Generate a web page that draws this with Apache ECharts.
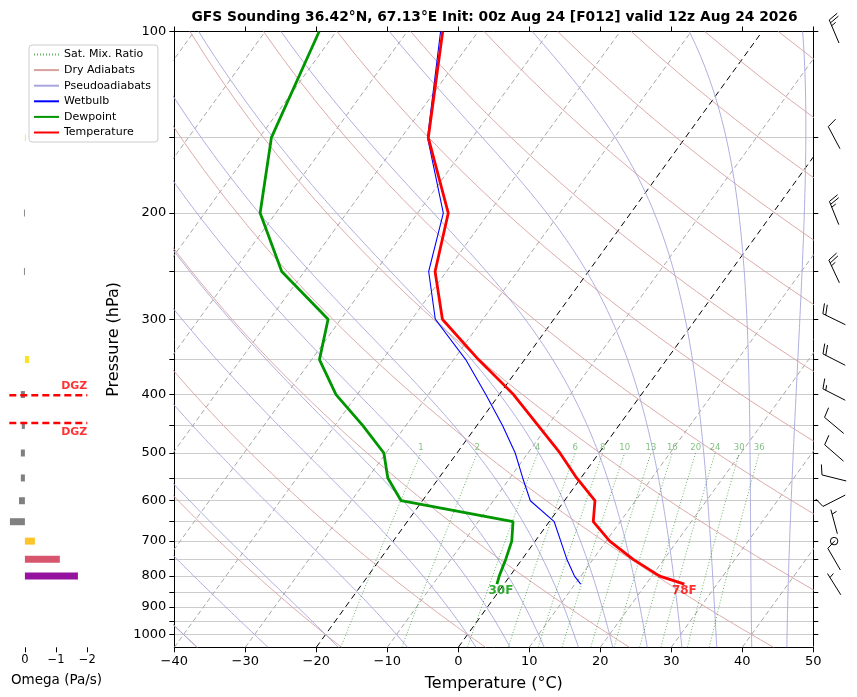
<!DOCTYPE html>
<html><head><meta charset="utf-8">
<script src="https://cdn.jsdelivr.net/npm/echarts@6/dist/echarts.min.js"></script>
<style>html,body{margin:0;padding:0;background:#fff}#c{width:857px;height:697px}</style>
</head><body><div id="c"></div>
<script>
// ---------------- data ----------------
const titleText = 'GFS Sounding 36.42°N, 67.13°E Init: 00z Aug 24 [F012] valid 12z Aug 24 2026';
const levels      = [825, 800, 750, 700, 650, 600, 550, 500, 450, 400, 350, 300, 250, 200, 150, 100];
const temperature = [25.4, 21.1, 15.6, 10.5, 6.2, 4.3, -0.6, -5.5, -11.4, -18.0, -26.5, -35.7, -41.6, -45.7, -56.2, -65.0];
const dewpoint    = [-1.0, -1.5, -2.3, -3.3, -5.1, -23.0, -27.2, -30.3, -36.1, -43.0, -48.9, -51.8, -63.2, -72.2, -78.3, -82.4];
const wetbulb     = [10.8, 9.1, 6.3, 3.6, 0.7, -4.8, -8.2, -11.8, -16.4, -21.9, -28.3, -36.7, -42.5, -46.4, -56.3, -65.3];

const omegaLevels = [150, 200, 250, 350, 400, 450, 500, 550, 600, 650, 700, 750, 800];
const omega       = [-0.03, 0.03, 0.03, -0.13, 0.13, 0.10, 0.13, 0.13, 0.19, 0.48, -0.32, -1.12, -1.70];

const barbLevels = [100, 150, 200, 250, 300, 350, 400, 450, 500, 550, 600, 650, 700, 750, 825];
const windDir    = [337, 332, 338, 335, 296, 297, 297, 310, 311, 284, 243, 345, 0, 330, 328];
const windSpeed  = [25, 10, 25, 25, 20, 20, 15, 10, 10, 10, 10, 5, 0, 10, 5];

const dgzPressures = [401, 446];
const mixingRatios = [1, 2, 4, 6, 8, 10, 13, 16, 20, 24, 30, 36];
const dryAdiabatT0 = [-40, -20, 0, 20, 40, 60, 80, 100, 120, 140, 160, 180, 200, 220];
const moistAdiabatT0 = [-40, -30, -20, -10, 0, 5, 10, 15, 20, 25, 30, 35, 40, 45, 50];
const isotherms = [-100, -90, -80, -70, -60, -50, -40, -30, -20, -10, 0, 10, 20, 30, 40, 50];
const tempTicks = [-40, -30, -20, -10, 0, 10, 20, 30, 40, 50];
const pressureLabels = [100, 200, 300, 400, 500, 600, 700, 800, 900, 1000];
const pressureTicks = [100, 150, 200, 250, 300, 350, 400, 450, 500, 550, 600, 650, 700, 750, 800, 850, 900, 950, 1000];
const omegaTicks = [-2, -1, 0];

// ---------------- helpers ----------------
const FONT = 'DejaVu Sans';
const P_BOT = 1050, P_TOP = 100, SKEW = 61.5;
const highlightIsotherms = [0, -20];
const skewX = (T, p) => T + SKEW * Math.log10(P_BOT / p);
const minus = v => (v < 0 ? '\u2212' + Math.abs(v) : '' + v);

const Rd = 287.04749, Cpd = 1004.6662, Lv = 2.50084e6, EPS = 0.62196;
const esat = Tc => 6.112 * Math.exp(17.67 * Tc / (Tc + 243.5));
const rsat = (Tc, p) => { const e = esat(Tc); return EPS * e / (p - e); };
function dTdp(p, Tk) {
  const rs = rsat(Tk - 273.15, p);
  return (Rd * Tk + Lv * rs) / (Cpd + Lv * Lv * rs * EPS / (Rd * Tk * Tk)) / p;
}
function integrate(T0, p0, p1, h) {
  const out = [[p0, T0]];
  let p = p0, T = T0;
  const n = Math.round((p1 - p0) / h);
  for (let i = 0; i < n; i++) {
    const k1 = dTdp(p, T), k2 = dTdp(p + h / 2, T + h / 2 * k1),
          k3 = dTdp(p + h / 2, T + h / 2 * k2), k4 = dTdp(p + h, T + h * k3);
    T += h / 6 * (k1 + 2 * k2 + 2 * k3 + k4); p += h;
    out.push([p, T]);
  }
  return out;
}
function moistLine(t0) {
  const up = integrate(t0 + 273.15, 1000, P_TOP, -5);
  const down = integrate(t0 + 273.15, 1000, P_BOT, 5).reverse();
  return down.concat(up.slice(1)).map(([p, Tk]) => [skewX(Tk - 273.15, p), p]);
}
function dryLine(t0) {
  const pts = [];
  for (let p = P_BOT; p >= P_TOP; p -= 10) {
    const T = (t0 + 273.15) * Math.pow(p / 1000, Rd / Cpd) - 273.15;
    pts.push([skewX(T, p), p]);
  }
  return pts;
}
function mixTd(w, p) {
  const e = p * (w / 1000) / (EPS + w / 1000);
  const l = Math.log(e / 6.112);
  return 243.5 * l / (17.67 - l);
}
function mixLine(w) {
  const pts = [];
  for (let p = P_BOT; p >= 500; p -= 25) pts.push([skewX(mixTd(w, p), p), p]);
  return pts;
}
const plasma = ['#0d0887', '#41049d', '#6a00a8', '#8f0da4', '#b12a90', '#cc4778', '#e16462', '#f2844b', '#fca636', '#fcce25', '#f0f921'];
function hex2rgb(h) { return [1, 3, 5].map(i => parseInt(h.substr(i, 2), 16)); }
function omegaColor(w) {
  if (w > 0) return '#808080';
  let t = Math.max(0, Math.min(1, 1 - Math.abs(w) / 2.5)) * 10;
  const i = Math.min(9, Math.floor(t)), f = t - i;
  const a = hex2rgb(plasma[i]), b = hex2rgb(plasma[i + 1]);
  return 'rgb(' + a.map((v, k) => Math.round(v + (b[k] - v) * f)).join(',') + ')';
}
const profile = vals => levels.map((p, i) => [skewX(vals[i], p), p]);
const toF = T => Math.round(T * 9 / 5 + 32) + 'F';

// ---------------- series ----------------
const series = [];
const base = { xAxisIndex: 0, yAxisIndex: 0, symbol: 'circle', showSymbol: false, silent: true, animation: false };

isotherms.forEach(T => {
  const hi = highlightIsotherms.includes(T);
  series.push(Object.assign({}, base, {
    type: 'line', z: 1,
    data: [[skewX(T, P_BOT), P_BOT], [skewX(T, P_TOP), P_TOP]],
    lineStyle: { color: hi ? '#000' : '#a8a8a8', width: 1, type: hi ? [6, 4] : [5, 3] }
  }));
});
dryAdiabatT0.forEach(t0 => series.push(Object.assign({}, base, {
  type: 'line', name: 'Dry Adiabats', z: 2, data: dryLine(t0),
  lineStyle: { color: '#d9a0a0', width: 0.9 }, itemStyle: { color: '#d9a0a0' }
})));
moistAdiabatT0.forEach(t0 => series.push(Object.assign({}, base, {
  type: 'line', name: 'Pseudoadiabats', z: 2, data: moistLine(t0),
  lineStyle: { color: '#a6a6dc', width: 0.9 }, itemStyle: { color: '#a6a6dc' }
})));
mixingRatios.forEach(w => series.push(Object.assign({}, base, {
  type: 'line', name: 'Sat. Mix. Ratio', z: 2, data: mixLine(w),
  lineStyle: { color: 'rgba(0,128,0,0.6)', width: 1, type: [1, 2] }, itemStyle: { color: 'rgba(0,128,0,0.6)' }
})));
series.push({
  type: 'scatter', xAxisIndex: 0, yAxisIndex: 0, silent: true, animation: false, z: 3,
  symbol: 'circle', symbolSize: 0,
  data: mixingRatios.map(w => ({ value: [skewX(mixTd(w, 500), 500), 500], name: '' + w })),
  label: { show: true, position: 'top', distance: 1, formatter: p => p.name,
           color: 'rgba(0,128,0,0.62)', fontSize: 8.5, fontFamily: FONT }
});
series.push(Object.assign({}, base, {
  type: 'line', name: 'Wetbulb', z: 5, data: profile(wetbulb),
  lineStyle: { color: '#0000ff', width: 1.1 }, itemStyle: { color: '#0000ff' }
}));
series.push(Object.assign({}, base, {
  type: 'line', name: 'Dewpoint', z: 6, data: profile(dewpoint),
  lineStyle: { color: '#009600', width: 2.8 }, itemStyle: { color: '#009600' }
}));
series.push(Object.assign({}, base, {
  type: 'line', name: 'Temperature', z: 7, data: profile(temperature),
  lineStyle: { color: '#ff0000', width: 2.8 }, itemStyle: { color: '#ff0000' }
}));
series.push({
  type: 'scatter', xAxisIndex: 0, yAxisIndex: 0, silent: true, animation: false, z: 8,
  symbol: 'circle', symbolSize: 0,
  data: [
    { value: [skewX(temperature[0], levels[0]), levels[0]], name: toF(temperature[0]), label: { color: '#ff0000' } },
    { value: [skewX(dewpoint[0], levels[0]), levels[0]], name: toF(dewpoint[0]), label: { color: '#009600', offset: [4, 0] } }
  ],
  label: { show: true, position: 'bottom', distance: 1, formatter: p => p.name,
           fontSize: 12, fontWeight: 'bold', fontFamily: FONT }
});

// omega panel
series.push({
  type: 'custom', xAxisIndex: 2, yAxisIndex: 2, silent: true, animation: false, clip: false,
  data: omega.map((w, i) => [w, omegaLevels[i]]),
  encode: { x: 0, y: 1 },
  renderItem: (params, api) => {
    const w = api.value(0), p = api.value(1);
    const a = api.coord([0, p]), b = api.coord([w, p]);
    const h = 7;
    return { type: 'rect', shape: { x: Math.min(a[0], b[0]), y: a[1] - h / 2, width: Math.abs(b[0] - a[0]), height: h },
             style: { fill: omegaColor(w) } };
  }
});
dgzPressures.forEach((p, i) => {
  series.push({
    type: 'line', xAxisIndex: 2, yAxisIndex: 2, symbol: 'circle', showSymbol: false, silent: true, animation: false, z: 5,
    data: [[0.5, p], [-2, p]],
    lineStyle: { color: '#ff0000', width: 2.5, type: [7, 4] }
  });
  series.push({
    type: 'scatter', xAxisIndex: 2, yAxisIndex: 2, symbolSize: 0, silent: true, animation: false, z: 6,
    data: [{ value: [-2, p], name: 'DGZ' }],
    label: { show: true, position: [0, i === 0 ? -9 : 9], align: 'right', verticalAlign: 'middle',
             formatter: 'DGZ', color: '#ff0000', fontWeight: 'bold', fontSize: 11, fontFamily: FONT }
  });
});

// wind barbs
function renderBarb(params, api) {
  const pt = api.coord([api.value(0), api.value(1)]);
  const dir = api.value(2) * Math.PI / 180, spd = api.value(3);
  const L = 25;
  const st = { stroke: '#000', lineWidth: 1, fill: null };
  if (spd < 2.5) return { type: 'circle', shape: { cx: pt[0], cy: pt[1], r: 0.15 * L }, style: st };
  const ux = Math.sin(dir), uy = -Math.cos(dir);
  const nx = -uy, ny = ux;
  const bx = pt[0] - ux * L / 2, by = pt[1] - uy * L / 2;
  const at = o => [bx + ux * o, by + uy * o];
  const ch = [{ type: 'line', shape: { x1: bx, y1: by, x2: bx + ux * L, y2: by + uy * L }, style: st }];
  let r = Math.round(spd / 5) * 5;
  const nflag = Math.floor(r / 50); r -= nflag * 50;
  const nbarb = Math.floor(r / 10); r -= nbarb * 10;
  const half = r >= 5;
  const H = 0.4 * L, W = 0.25 * L, sp = 0.125 * L;
  let off = L;
  for (let i = 0; i < nflag; i++) {
    if (off !== L) off += sp / 2;
    const p0 = at(off), p1 = at(off - W / 2), p2 = at(off - W);
    ch.push({ type: 'polygon', shape: { points: [p0, [p1[0] + nx * H, p1[1] + ny * H], p2] }, style: { fill: '#000', stroke: '#000', lineWidth: 1 } });
    off -= W + sp;
  }
  for (let i = 0; i < nbarb; i++) {
    const p0 = at(off), p1 = at(off + W / 2);
    ch.push({ type: 'line', shape: { x1: p0[0], y1: p0[1], x2: p1[0] + nx * H, y2: p1[1] + ny * H }, style: st });
    off -= sp;
  }
  if (half) {
    if (off === L) off -= 1.5 * sp;
    const p0 = at(off), p1 = at(off + W / 4);
    ch.push({ type: 'line', shape: { x1: p0[0], y1: p0[1], x2: p1[0] + nx * H / 2, y2: p1[1] + ny * H / 2 }, style: st });
  }
  return { type: 'group', children: ch };
}
series.push({
  type: 'custom', xAxisIndex: 3, yAxisIndex: 3, silent: true, animation: false, clip: false,
  data: barbLevels.map((p, i) => [0.48, p, windDir[i], windSpeed[i]]),
  encode: { x: 0, y: 1 },
  renderItem: renderBarb
});

// ---------------- axes ----------------
const labelStyle = { color: '#000', fontSize: 13, fontFamily: FONT };
const black = { color: '#000', width: 1 };
const logY = (gridIndex, extra) => Object.assign({
  type: 'log', logBase: 10, gridIndex, min: P_TOP, max: P_BOT, inverse: true,
  axisLine: { show: false, onZero: false }, axisTick: { show: false }, axisLabel: { show: false }, splitLine: { show: false }
}, extra);

const option = {
  animation: false,
  backgroundColor: '#fff',
  grid: [
    { left: 174.3, top: 31.5, width: 639, height: 615.8, outerBoundsMode: 'none' },
    { left: 9.3, top: 31.5, width: 78, height: 615.8, outerBoundsMode: 'none' },
    { left: 813, top: 31.5, width: 44, height: 615.8, outerBoundsMode: 'none' }
  ],
  xAxis: [
    { type: 'value', gridIndex: 0, min: -40, max: 50, interval: 10, position: 'bottom',
      axisLine: { show: true, onZero: false, lineStyle: black },
      axisTick: { show: true, length: 5, lineStyle: black, customValues: tempTicks },
      axisLabel: Object.assign({ margin: 8, formatter: minus, customValues: tempTicks }, labelStyle),
      splitLine: { show: false },
      name: 'Temperature (°C)', nameLocation: 'middle', nameGap: 29,
      nameTextStyle: { color: '#000', fontSize: 16, fontFamily: FONT } },
    { type: 'value', gridIndex: 0, min: -40, max: 50, interval: 10, position: 'top',
      axisLine: { show: true, onZero: false, lineStyle: black },
      axisTick: { show: true, length: 5, lineStyle: black, customValues: tempTicks },
      axisLabel: { show: false }, splitLine: { show: false } },
    { type: 'value', gridIndex: 1, min: -2, max: 0.5, inverse: true, position: 'bottom',
      axisLine: { show: false, onZero: false },
      axisTick: { show: true, length: 5, lineStyle: black, customValues: omegaTicks },
      axisLabel: Object.assign({ margin: 7, formatter: minus, customValues: omegaTicks }, labelStyle, { fontSize: 11.5 }),
      splitLine: { show: false } },
    { type: 'value', gridIndex: 2, min: 0, max: 1, show: false }
  ],
  yAxis: [
    logY(0, {
      position: 'left',
      axisLine: { show: true, onZero: false, lineStyle: black },
      axisTick: { show: true, length: 5, lineStyle: black, customValues: pressureTicks },
      axisLabel: Object.assign({ margin: 8, customValues: pressureLabels, formatter: v => String(Math.round(v)) }, labelStyle),
      splitLine: { show: true, lineStyle: { color: '#cccccc', width: 1 } },
      name: 'Pressure (hPa)', nameLocation: 'middle', nameGap: 40, nameRotate: 90,
      nameTextStyle: { color: '#000', fontSize: 16, fontFamily: FONT }
    }),
    logY(0, {
      position: 'right',
      axisLine: { show: true, onZero: false, lineStyle: black },
      axisTick: { show: true, length: 5, lineStyle: black, customValues: pressureTicks }
    }),
    logY(1, {}),
    logY(2, {})
  ],
  legend: {
    left: 29, top: 45, orient: 'vertical',
    data: ['Sat. Mix. Ratio', 'Dry Adiabats', 'Pseudoadiabats', 'Wetbulb', 'Dewpoint', 'Temperature'],
    itemWidth: 25, itemHeight: 11, itemGap: 4.6, padding: [4, 7, 4, 4],
    itemStyle: { opacity: 0 },
    backgroundColor: 'rgba(255,255,255,0.85)', borderColor: '#cccccc', borderWidth: 1, borderRadius: 3,
    textStyle: { color: '#000', fontSize: 11, fontFamily: FONT },
    selectedMode: false
  },
  graphic: [
    { type: 'text', x: 494.5, y: 17.5, silent: true,
      style: { text: titleText, align: 'center', verticalAlign: 'middle', font: 'bold 13.8px "DejaVu Sans"', fill: '#000' } },
    { type: 'text', x: 56.5, y: 680, silent: true,
      style: { text: 'Omega (Pa/s)', align: 'center', verticalAlign: 'middle', font: '13.5px "DejaVu Sans"', fill: '#000' } }
  ],
  series
};

const chart = echarts.init(document.getElementById('c'), null, { renderer: 'canvas' });
chart.setOption(option);
</script>
</body></html>
